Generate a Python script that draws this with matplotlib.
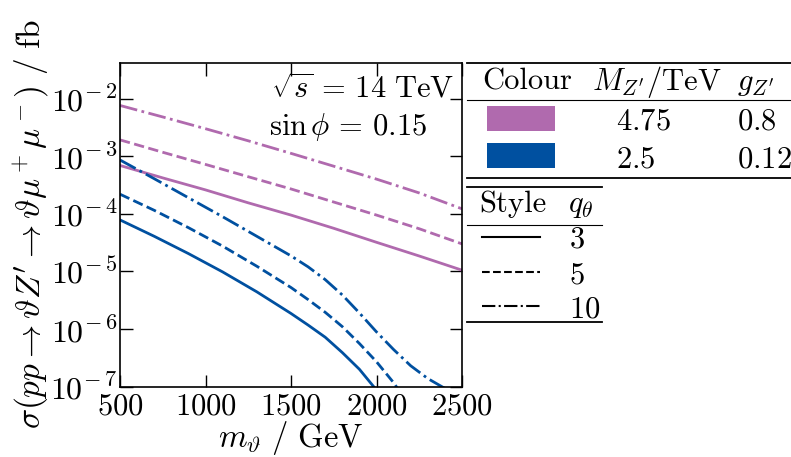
import numpy as np
import matplotlib.pyplot as plt
from matplotlib.lines import Line2D
from matplotlib.patches import Rectangle
from matplotlib.ticker import NullLocator, FixedLocator, FuncFormatter

plt.rcParams.update({
    "font.family": "serif",
    "font.serif": ["cmr10"],
    "mathtext.fontset": "cm",
    "axes.formatter.use_mathtext": True,
    "font.size": 22,
})

# ----------------------------------------------------------------------
# data (cross-section in fb vs mass in GeV)
# ----------------------------------------------------------------------
m_mag = [500, 750, 1000, 1250, 1500, 1750, 2000, 2250, 2500]
mag_q3 = [6.9e-4, 4.2e-4, 2.6e-4, 1.55e-4, 9.5e-5, 5.6e-5, 3.2e-5, 1.85e-5, 1.05e-5]
mag_q5 = [1.92e-3, 1.17e-3, 7.2e-4, 4.4e-4, 2.7e-4, 1.6e-4, 9.5e-5, 5.5e-5, 3.0e-5]
mag_q10 = [7.6e-3, 4.8e-3, 3.0e-3, 1.85e-3, 1.12e-3, 6.7e-4, 4.0e-4, 2.3e-4, 1.22e-4]

m_b3 = [500, 700, 900, 1100, 1300, 1500, 1600, 1700, 1800, 1900, 2000, 2050]
blue_q3 = [7.83e-5, 4.07e-5, 2.04e-5, 9.8e-6, 4.42e-6, 1.86e-6, 1.17e-6, 7.2e-7,
           3.9e-7, 2.0e-7, 8.7e-8, 5.0e-8]
m_b5 = [500, 700, 900, 1100, 1300, 1500, 1600, 1700, 1800, 1900, 2000, 2100, 2150]
blue_q5 = [2.19e-4, 1.15e-4, 5.75e-5, 2.75e-5, 1.23e-5, 5.25e-6, 3.24e-6, 1.95e-6,
           1.1e-6, 5.6e-7, 2.7e-7, 1.17e-7, 7.1e-8]
m_b10 = [500, 700, 900, 1100, 1300, 1500, 1600, 1700, 1800, 1900, 2000, 2100,
         2200, 2300, 2400, 2450]
blue_q10 = [8.6e-4, 4.07e-4, 1.9e-4, 8.9e-5, 4.07e-5, 1.86e-5, 1.2e-5, 7.2e-6,
            3.9e-6, 1.9e-6, 8.9e-7, 4.4e-7, 2.3e-7, 1.38e-7, 9.3e-8, 7.6e-8]

colours = ["#b06aae", "#0050a0"]
masses = ["4.75", "2.5"]
couplings = ["0.8", "0.12"]
q_values = ["3", "5", "10"]
styles = ["-", "--", "-."]
y_decades = [-7, -6, -5, -4, -3, -2]

series = [
    (m_mag, mag_q3, 0, 0), (m_mag, mag_q5, 0, 1), (m_mag, mag_q10, 0, 2),
    (m_b3, blue_q3, 1, 0), (m_b5, blue_q5, 1, 1), (m_b10, blue_q10, 1, 2),
]

# ----------------------------------------------------------------------
# figure laid out on the 791x457 pixel canvas
# ----------------------------------------------------------------------
W, H = 791, 457


def fx(x):
    return x / W


def fy(y):
    return 1 - y / H


fig = plt.figure(figsize=(W / 100, H / 100), dpi=100)
ax = fig.add_axes([fx(120), fy(386.6), (462 - 120) / W, (386.6 - 63.3) / H])

for m, sig, ci, si in series:
    ax.plot(m, sig, styles[si], color=colours[ci], lw=2.0)

ax.set_yscale("log")
ax.set_xlim(500, 2500)
ax.set_ylim(1e-7, 4.1e-2)
ax.set_xticks([500, 1000, 1500, 2000, 2500])
ax.yaxis.set_major_locator(FixedLocator([10.0 ** e for e in y_decades]))
ax.yaxis.set_minor_locator(NullLocator())
ax.yaxis.set_major_formatter(FuncFormatter(
    lambda v, pos: r"$10^{-\,%d}$" % round(-np.log10(v))))
ax.tick_params(which="both", direction="in", top=True, right=True,
               length=9, width=1.0)
ax.tick_params(axis="y", pad=2, labelsize=23)
ax.tick_params(axis="x", pad=5)
for sp in ax.spines.values():
    sp.set_linewidth(1.2)

fig.text(fx(291), fy(447), r"$m_\vartheta\ /\ \mathrm{GeV}$", ha="center",
         va="baseline", fontsize=23.5)
fig.text(fx(31), fy(224),
         r"$\sigma(pp\rightarrow\vartheta Z^\prime\rightarrow\vartheta\mu^+\mu^-)\ /\ \mathrm{fb}$",
         rotation=90, ha="center", va="center", fontsize=24)

fig.text(fx(271), fy(98), r"$\sqrt{s}\,=\,14\ \mathrm{TeV}$", va="baseline")
fig.text(fx(269), fy(135), r"$\sin\phi\,=\,0.15$", va="baseline")


def hline(x0, x1, y, lw):
    fig.add_artist(Line2D([fx(x0), fx(x1)], [fy(y), fy(y)], transform=fig.transFigure,
                          color="k", lw=lw))


# colour table
hline(467, 791, 63.3, 1.3)
hline(467, 791, 100, 0.8)
hline(467, 791, 178.3, 1.3)
fig.text(fx(482), fy(90), "Colour", va="baseline")
fig.text(fx(592), fy(90), r"$M_{Z^\prime}/\mathrm{TeV}$", va="baseline")
fig.text(fx(737), fy(90), r"$g_{Z^\prime}$", va="baseline")
row_base = [130, 167]
for i, c in enumerate(colours):
    fig.add_artist(Rectangle((fx(487), fy(row_base[i] + 0.7)), 68 / W, 25 / H,
                             transform=fig.transFigure, facecolor=c, edgecolor="none"))
    fig.text(fx(616), fy(row_base[i]), f"${masses[i]}$", va="baseline")
    fig.text(fx(737), fy(row_base[i]), f"${couplings[i]}$", va="baseline")

# style table
hline(467, 602, 186.7, 1.3)
hline(467, 602, 225, 0.8)
hline(467, 602, 321.7, 1.3)
fig.text(fx(479), fy(211.7), "Style", va="baseline")
fig.text(fx(568), fy(211.7), r"$q_\theta$", va="baseline")
sample_y = [236.7, 272.3, 306]
num_base = [248, 283, 317.7]
for i, q in enumerate(q_values):
    fig.add_artist(Line2D([fx(482), fx(540)], [fy(sample_y[i]), fy(sample_y[i])],
                          transform=fig.transFigure, color="k", lw=1.5, ls=styles[i]))
    fig.text(fx(569), fy(num_base[i]), f"${q}$", va="baseline")

fig.savefig("out.png", dpi=100)
